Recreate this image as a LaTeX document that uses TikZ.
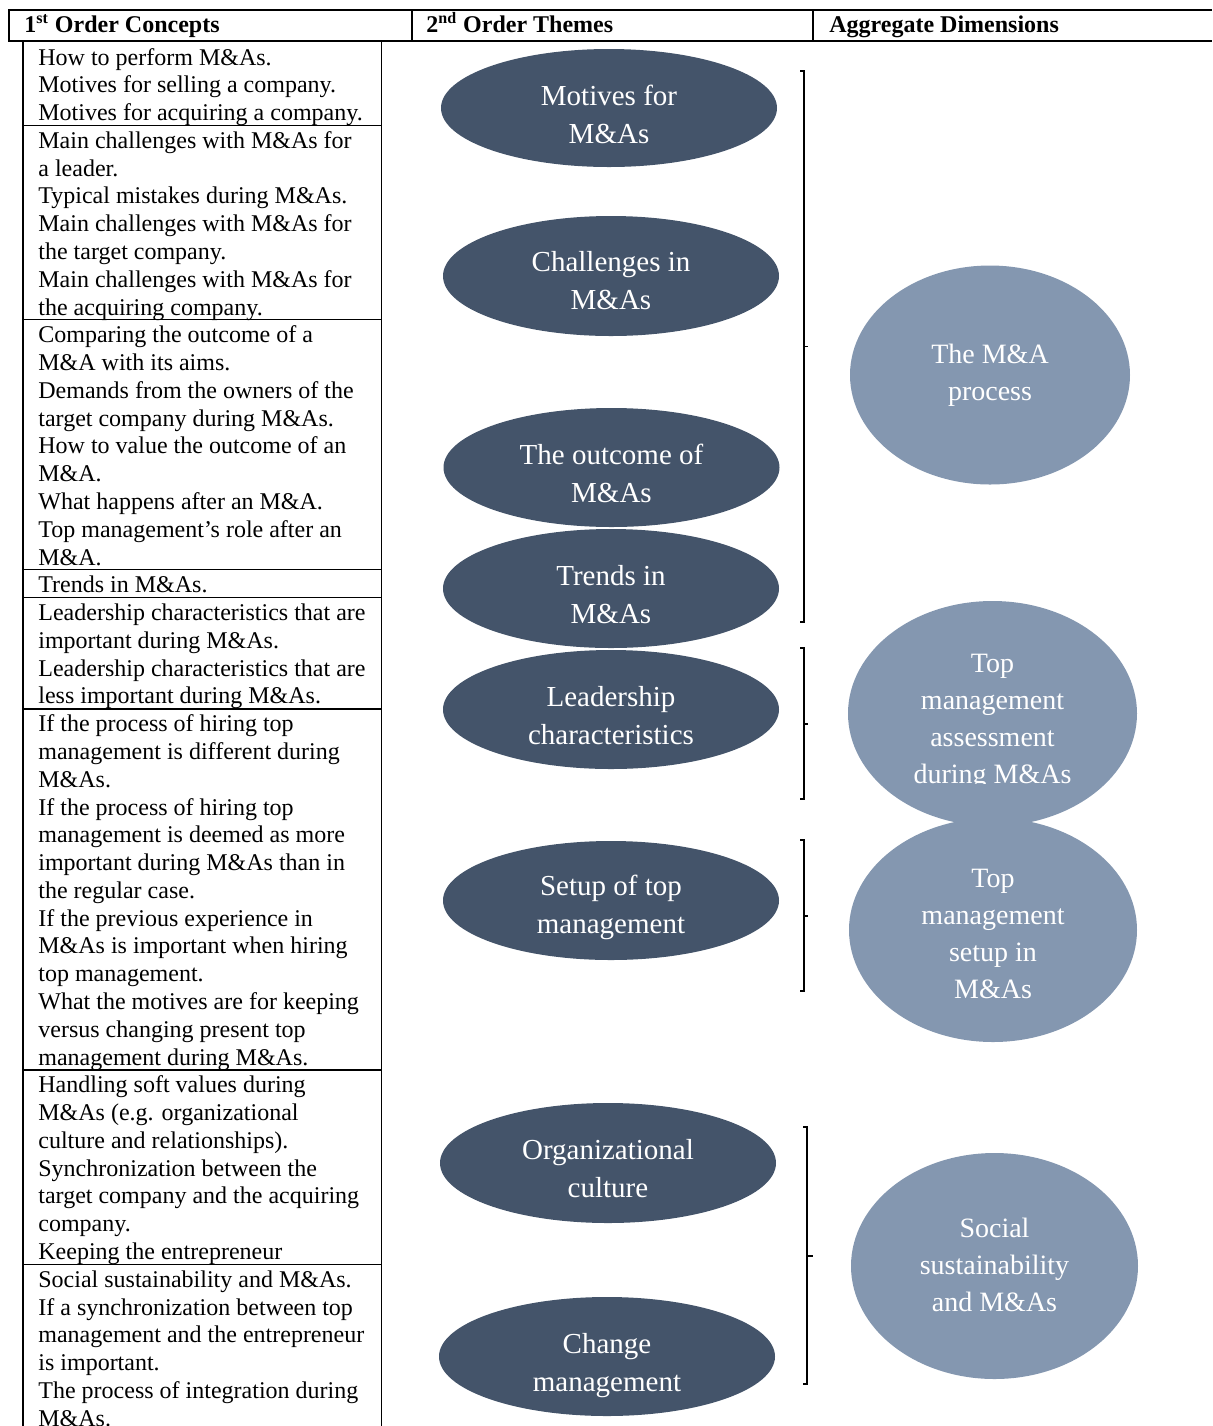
\documentclass[tikz,border=0pt]{standalone}
\usepackage{fontspec}
\setmainfont{Liberation Serif}
\usetikzlibrary{shapes.geometric}
\definecolor{darkblue}{HTML}{44546A}
\definecolor{lightblue}{HTML}{8497B0}
\tikzset{
  cell/.style={anchor=base west, inner sep=0pt, font=\fontsize{12}{13.9}\selectfont},
  hdr/.style={anchor=base west, inner sep=0pt, font=\bfseries\fontsize{12}{14}\selectfont},
  hrule/.style={line width=1pt},
  trule/.style={line width=0.7pt},
  theme/.style={ellipse, fill=darkblue, minimum width=168pt, minimum height=59.5pt, inner sep=0pt},
  themetext/.style={text=white, align=center, inner sep=0pt, font=\fontsize{14.5}{19}\selectfont},
  aggr/.style={ellipse, fill=lightblue, inner sep=0pt},
  aggrtext/.style={text=white, align=center, inner sep=0pt, font=\fontsize{14}{18.5}\selectfont},
  brk/.style={line width=0.6pt}
}
\begin{document}
\begin{tikzpicture}[x=0.5pt,y=-0.5pt]
\useasboundingbox (0,0) rectangle (1212,1426);
% header
\draw[hrule] (8,10) -- (1212,10);
\draw[hrule] (8,40.5) -- (1212,40.5);
\draw[hrule] (9,10) -- (9,40.5);
\draw[hrule] (411.5,10) -- (411.5,40.5);
\draw[hrule] (813,10) -- (813,40.5);
\node[hdr] (h1) at (24,32) {1\textsuperscript{st} Order Concepts};
\node[hdr] (h2) at (426,32) {2\textsuperscript{nd} Order Themes};
\node[hdr] (h3) at (829,32) {Aggregate Dimensions};
% first column box
\draw[trule] (23,40.5) -- (23,1426);
\draw[trule] (381.5,40.5) -- (381.5,1426);
\foreach \yy in {125.2,319.6,569.6,597.6,708.8,1069.8,1264.2}
  \draw[trule] (23,\yy) -- (381.5,\yy);
\foreach \t [count=\k from 0] in {
 {How to perform M\&As.},
 {Motives for selling a company.},
 {Motives for acquiring a company.},
 {Main challenges with M\&As for},
 {a leader.},
 {Typical mistakes during M\&As.},
 {Main challenges with M\&As for},
 {the target company.},
 {Main challenges with M\&As for},
 {the acquiring company.},
 {Comparing the outcome of a},
 {M\&A with its aims.},
 {Demands from the owners of the},
 {target company during M\&As.},
 {How to value the outcome of an},
 {M\&A.},
 {What happens after an M\&A.},
 {Top management’s role after an},
 {M\&A.},
 {Trends in M\&As.},
 {Leadership characteristics that are},
 {important during M\&As.},
 {Leadership characteristics that are},
 {less important during M\&As.},
 {If the process of hiring top},
 {management is different during},
 {M\&As.},
 {If the process of hiring top},
 {management is deemed as more},
 {important during M\&As than in},
 {the regular case.},
 {If the previous experience in},
 {M\&As is important when hiring},
 {top management.},
 {What the motives are for keeping},
 {versus changing present top},
 {management during M\&As.},
 {Handling soft values during},
 {M\&As (e.g. organizational},
 {culture and relationships).},
 {Synchronization between the},
 {target company and the acquiring},
 {company.},
 {Keeping the entrepreneur},
 {Social sustainability and M\&As.},
 {If a synchronization between top},
 {management and the entrepreneur},
 {is important.},
 {The process of integration during},
 {M\&As.}}
  \node[cell] (c\k) at (38,{65+27.78*\k}) {\t};
% second order themes
\node[theme, minimum height=59pt] (d1) at (609,108) {};
\node[theme, minimum height=60pt] (d2) at (611,276) {};
\node[theme] (d3) at (611.5,467.5) {};
\node[theme] (d4) at (611,588.5) {};
\node[theme] (d5) at (611,709.5) {};
\node[theme] (d6) at (611,900.5) {};
\node[theme, minimum height=60pt] (d7) at (608,1163) {};
\node[theme] (d8) at (607,1356.5) {};
\node[themetext] (t1) at (609,114) {Motives for\\M\&As};
\node[themetext] (t2) at (611,280.5) {Challenges in\\M\&As};
\node[themetext] (t3) at (611.5,473) {The outcome of\\M\&As};
\node[themetext] (t4) at (611,595) {Trends in\\M\&As};
\node[themetext] (t5) at (611,716) {Leadership\\characteristics};
\node[themetext] (t6) at (611,907.5) {Setup of top\\management};
\node[themetext] (t7) at (608,1169) {Organizational\\culture};
\node[themetext] (t8) at (607,1366) {Change\\management};
% brackets
\draw[brk] (800,71) -- (804,71) -- (804,622) -- (800,622);
\draw[brk] (804,346.5) -- (808,346.5);
\draw[brk] (800,648) -- (804,648) -- (804,799) -- (800,799);
\draw[brk] (804,724) -- (808,724);
\draw[brk] (800,840) -- (804,840) -- (804,991) -- (800,991);
\draw[brk] (804,916) -- (808,916);
\draw[brk] (803,1127) -- (807,1127) -- (807,1384) -- (803,1384);
\draw[brk] (807,1256) -- (813,1256);
% aggregate dimensions
\node[aggr, minimum width=140pt, minimum height=109.5pt] (a1) at (990,375) {};
\node[aggrtext] (s1) at (990,375) {The M\&A\\process};
\node[aggr, minimum width=144.5pt, minimum height=112.5pt] (a2) at (992.5,713.5) {};
\begin{scope}
  \clip (840,590) rectangle (1145,783);
  \node[aggrtext] (s2) at (992.5,721.5) {Top\\management\\assessment\\during M\&As};
\end{scope}
\node[aggr, minimum width=144pt, minimum height=112pt] (a3) at (993,930) {};
\node[aggrtext] (s3) at (993,934) {Top\\management\\setup in\\M\&As};
\node[aggr, minimum width=143.5pt, minimum height=113pt] (a4) at (994.5,1266) {};
\node[aggrtext] (s4) at (994.5,1264.5) {Social\\sustainability\\and M\&As};
\end{tikzpicture}
\end{document}
